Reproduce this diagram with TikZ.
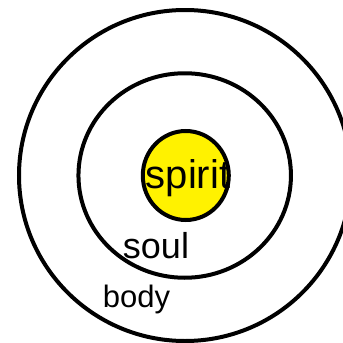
\documentclass[tikz,border=0pt]{standalone}
\usepackage{fontspec}
\setmainfont{Liberation Sans}
\usetikzlibrary{shapes.geometric, positioning}

\begin{document}
\begin{tikzpicture}[
    x=1pt, y=-1pt,
    ring/.style={
        draw,
        ellipse,
        line width=4pt,
        inner sep=0pt
    },
    label/.style={
        anchor=base,
        inner sep=0pt
    }
]

\clip (0,0) rectangle (343,343);

% --- Rings ---
\node (body) [ring, minimum width=332pt, minimum height=331pt] at (185,175.5) {};
\node (soul) [ring, minimum width=212.5pt, minimum height=204.5pt] at (184.7,175.5) {};
\node (spirit) [ring, fill=yellow, minimum width=86pt, minimum height=89pt] at (185.8,175.5) {};

% --- Labels ---
\node (spirittext) [label, font=\fontsize{40}{44}\selectfont] at (188,188) {spirit};
\node (soultext) [label, font=\fontsize{36}{40}\selectfont] at (156,258) {soul};
\node (bodytext) [label, font=\fontsize{31}{35}\selectfont] at (136.5,307.5) {body};

\end{tikzpicture}
\end{document}
